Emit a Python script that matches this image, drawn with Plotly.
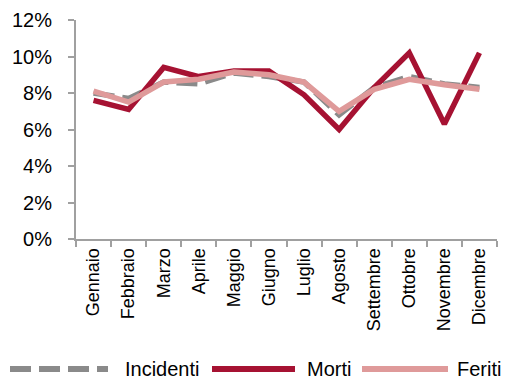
import plotly.graph_objects as go

mesi = ["Gennaio", "Febbraio", "Marzo", "Aprile", "Maggio", "Giugno",
        "Luglio", "Agosto", "Settembre", "Ottobre", "Novembre", "Dicembre"]

# quota mensile sul totale annuo (%)
incidenti = [8.0, 7.7, 8.6, 8.5, 9.1, 8.9, 8.6, 6.8, 8.3, 8.9, 8.5, 8.3]
morti = [7.6, 7.1, 9.4, 8.9, 9.2, 9.2, 7.9, 6.0, 8.3, 10.2, 6.3, 10.2]
feriti = [8.1, 7.5, 8.6, 8.75, 9.15, 9.0, 8.6, 7.0, 8.2, 8.75, 8.45, 8.2]

y_ticks = [0, 2, 4, 6, 8, 10, 12]

COL_INC = "#8a8a8a"
COL_MORTI = "#a61232"
COL_FERITI = "#df9a9a"
FONT = "Liberation Sans, Arial, sans-serif"

fig = go.Figure()
fig.add_trace(go.Scatter(x=mesi, y=incidenti, name="Incidenti", mode="lines",
                         line=dict(color=COL_INC, width=5.5, dash="21px,8px")))
fig.add_trace(go.Scatter(x=mesi, y=morti, name="Morti", mode="lines",
                         line=dict(color=COL_MORTI, width=5.5)))
fig.add_trace(go.Scatter(x=mesi, y=feriti, name="Feriti", mode="lines",
                         line=dict(color=COL_FERITI, width=5.5)))

# legenda disegnata a mano in basso
W, H = 505, 382
legend_items = [
    ("Incidenti", COL_INC, "21px,8px", 10, 108, 123),
    ("Morti", COL_MORTI, "solid", 212, 295, 305),
    ("Feriti", COL_FERITI, "solid", 362, 448, 455),
]
ly = 369
shapes = []
annotations = []
for label, col, dash, x0, x1, xt in legend_items:
    shapes.append(dict(type="line", xref="paper", yref="paper",
                       x0=(x0 - 76) / (497 - 76), x1=(x1 - 76) / (497 - 76),
                       y0=(239 - ly) / (239 - 20), y1=(239 - ly) / (239 - 20),
                       line=dict(color=col, width=6, dash=dash)))
    annotations.append(dict(text=label, xref="paper", yref="paper",
                            x=(xt - 76) / (497 - 76), y=(239 - ly) / (239 - 20),
                            xanchor="left", yanchor="middle", showarrow=False,
                            font=dict(family=FONT, size=20, color="#000000")))

fig.update_layout(
    width=W, height=H,
    margin=dict(l=76, r=8, t=20, b=143),
    paper_bgcolor="white", plot_bgcolor="white",
    showlegend=False,
    shapes=shapes, annotations=annotations,
    font=dict(family=FONT, color="#000000"),
)
fig.update_xaxes(
    type="category", range=[-0.5, 11.5],
    showline=True, linecolor="#a0a0a0", linewidth=2,
    ticks="outside", tickson="boundaries", ticklen=6, tickcolor="#a0a0a0", tickwidth=2,
    tickangle=-90, tickfont=dict(family=FONT, size=18, color="#000000"),
    showgrid=False, zeroline=False,
)
fig.update_yaxes(
    range=[0, 12], tickvals=y_ticks, ticktext=[f"{v}%" for v in y_ticks],
    showline=True, linecolor="#a0a0a0", linewidth=2,
    ticks="outside", ticklen=6, tickcolor="#a0a0a0", tickwidth=2,
    tickfont=dict(family=FONT, size=20, color="#000000"),
    ticklabelstandoff=12,
    showgrid=False, zeroline=False,
)

fig.write_html("out.html")
